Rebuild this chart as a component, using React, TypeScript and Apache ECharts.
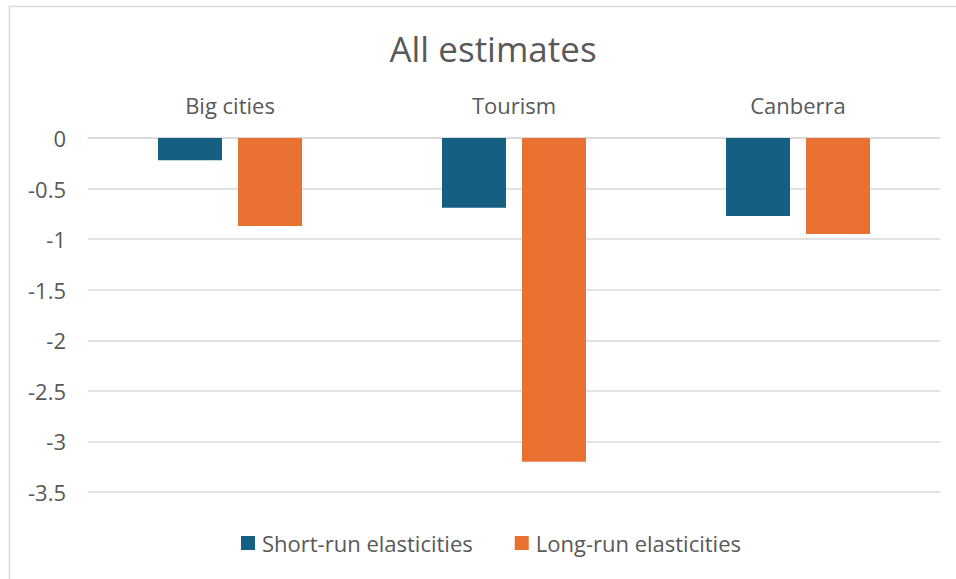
import React, { useEffect, useRef } from "react";
import * as echarts from "echarts";

const categories = ["Big cities", "Tourism", "Canberra"];
const shortRun = [-0.22, -0.69, -0.77];
const longRun = [-0.87, -3.2, -0.95];
const seriesNames = ["Short-run elasticities", "Long-run elasticities"];

const FONT = "'Open Sans', 'Liberation Sans', sans-serif";
const TEXT = "#595959";

export default function App() {
  const ref = useRef<HTMLDivElement>(null);
  useEffect(() => {
    const chart = echarts.init(ref.current!, undefined, { renderer: "svg" });
    chart.setOption({
      animation: false,
      backgroundColor: "#ffffff",
      title: {
        text: "All estimates",
        left: 488,
        top: 26,
        textAlign: "center",
        textStyle: { fontFamily: FONT, fontSize: 35, fontWeight: "normal", color: TEXT },
      },
      graphic: [
        {
          type: "rect",
          shape: { x: 9.5, y: 6.5, width: 1000, height: 700 },
          style: { fill: "none", stroke: "#d9d9d9", lineWidth: 1.5 },
          silent: true,
        },
      ],
      legend: {
        top: 527,
        left: 236,
        itemWidth: 14,
        itemHeight: 14,
        itemGap: 42,
        icon: "rect",
        textStyle: { fontFamily: FONT, fontSize: 22, color: TEXT, padding: [0, 0, 0, 2] },
        data: seriesNames,
      },
      grid: { left: 88, right: 16, top: 138, bottom: 87, containLabel: false },
      xAxis: {
        type: "category",
        position: "top",
        data: categories,
        axisLine: { show: true, lineStyle: { color: "#d9d9d9", width: 1.5 } },
        axisTick: { show: false },
        axisLabel: { margin: 22, fontFamily: FONT, fontSize: 22, color: TEXT },
      },
      yAxis: {
        type: "value",
        min: -3.5,
        max: 0,
        interval: 0.5,
        axisLine: { show: false },
        axisTick: { show: false },
        splitLine: { lineStyle: { color: "#d9d9d9", width: 1.5 } },
        axisLabel: { margin: 22, fontFamily: FONT, fontSize: 22, color: TEXT },
      },
      series: [
        {
          name: seriesNames[0],
          type: "bar",
          data: shortRun,
          itemStyle: { color: "#156082" },
          barWidth: 64,
          barGap: "25%",
        },
        {
          name: seriesNames[1],
          type: "bar",
          data: longRun,
          itemStyle: { color: "#E97132" },
          barWidth: 64,
          barGap: "25%",
        },
      ],
    });
    return () => chart.dispose();
  }, []);
  return (
    <div
      ref={ref}
      style={{ position: "absolute", left: 0, top: 0, width: 956, height: 579 }}
    />
  );
}
